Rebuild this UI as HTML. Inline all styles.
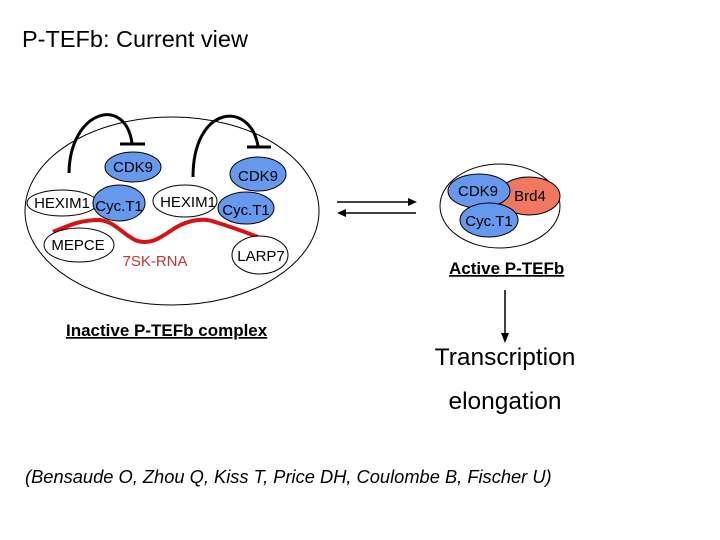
<!DOCTYPE html>
<html><head><style>body{margin:0;background:#fff}svg{display:block}</style></head><body>
<svg width="720" height="540" xmlns="http://www.w3.org/2000/svg" font-family="Liberation Sans, sans-serif">
<rect width="720" height="540" fill="#fff"/>
<text x="22" y="47" font-size="23.5">P-TEFb: Current view</text>
<ellipse cx="172" cy="211" rx="147" ry="94" fill="none" stroke="#000" stroke-width="1"/>
<path d="M69,173 C70,110 125,95 132,143" fill="none" stroke="#000" stroke-width="3"/>
<line x1="120" y1="144" x2="145" y2="144" stroke="#000" stroke-width="3"/>
<path d="M193,177 C193,105 250,100 258,146" fill="none" stroke="#000" stroke-width="3"/>
<line x1="247" y1="147" x2="271" y2="147" stroke="#000" stroke-width="3"/>
<g stroke="#000" stroke-width="1">
<ellipse cx="133" cy="167" rx="28" ry="15" fill="#6699ee"/>
<ellipse cx="258" cy="174" rx="28" ry="17" fill="#6699ee"/>
<ellipse cx="62" cy="203" rx="35" ry="13" fill="#fff"/>
<ellipse cx="119" cy="203" rx="26" ry="18" fill="#6699ee"/>
<ellipse cx="185" cy="201" rx="32" ry="16" fill="#fff"/>
<ellipse cx="246" cy="208" rx="28" ry="16" fill="#6699ee"/>
</g>
<path d="M53,232 C70,225 80,220 100,220 C115,222 120,232 135,240 C150,246 160,238 175,228 C190,219 205,218 215,222 C235,228 245,232 258,237" fill="none" stroke="#dd1111" stroke-width="4"/>
<g stroke="#000" stroke-width="1" fill="#fff">
<ellipse cx="79" cy="245" rx="35" ry="17"/>
<ellipse cx="260" cy="255" rx="28" ry="19"/>
</g>
<g font-size="15" text-anchor="middle">
<text x="133" y="172">CDK9</text>
<text x="258" y="181">CDK9</text>
<text x="62" y="208">HEXIM1</text>
<text x="119" y="211">Cyc.T1</text>
<text x="188" y="207">HEXIM1</text>
<text x="246" y="215">Cyc.T1</text>
<text x="78" y="250">MEPCE</text>
<text x="261" y="261">LARP7</text>
<text x="155" y="266" fill="#cc3333">7SK-RNA</text>
</g>
<text x="66" y="336" font-size="17" font-weight="bold" text-decoration="underline">Inactive P-TEFb complex</text>
<line x1="337" y1="202" x2="410" y2="202" stroke="#000" stroke-width="1.5"/>
<polygon points="417,202 408,198 408,206"/>
<line x1="344" y1="213" x2="416" y2="213" stroke="#000" stroke-width="1.5"/>
<polygon points="337,213 346,209 346,217"/>
<ellipse cx="500" cy="206" rx="60" ry="42" fill="none" stroke="#000"/>
<g stroke="#000" stroke-width="1">
<ellipse cx="529" cy="196" rx="31" ry="19" fill="#f07860"/>
<ellipse cx="479" cy="191" rx="31" ry="17" fill="#6699ee"/>
<ellipse cx="489" cy="220" rx="29" ry="17" fill="#6699ee"/>
</g>
<g font-size="15" text-anchor="middle">
<text x="478" y="196">CDK9</text>
<text x="530" y="201">Brd4</text>
<text x="489" y="226">Cyc.T1</text>
</g>
<text x="449" y="274" font-size="17" font-weight="bold" text-decoration="underline">Active P-TEFb</text>
<line x1="505" y1="290" x2="505" y2="335" stroke="#000" stroke-width="1.5"/>
<polygon points="505,343 501,333 509,333"/>
<text x="505" y="365" font-size="24.5" text-anchor="middle">Transcription</text>
<text x="505" y="409" font-size="24.5" text-anchor="middle">elongation</text>
<text x="25" y="483" font-size="18.3" font-style="italic">(Bensaude O, Zhou Q, Kiss T, Price DH, Coulombe B, Fischer U)</text>
</svg>
</body></html>
